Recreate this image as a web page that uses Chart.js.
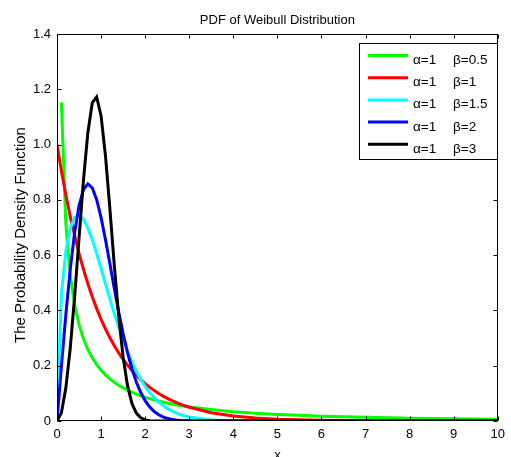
<!DOCTYPE html>
<html>
<head>
<meta charset="utf-8">
<script src="https://cdn.jsdelivr.net/npm/chart.js@4/dist/chart.umd.min.js"></script>
<style>
  html, body { margin: 0; padding: 0; background: #fff; }
  canvas { display: block; }
</style>
</head>
<body>
<canvas id="c" width="511" height="457"></canvas>
<script>
// Sample points along x
const xValues = [0, 0.1, 0.2, 0.3, 0.4, 0.5, 0.6, 0.7, 0.8, 0.9, 1.0, 1.1, 1.2, 1.3, 1.4, 1.5, 1.6, 1.7, 1.8, 1.9,
  2.0, 2.1, 2.2, 2.3, 2.4, 2.5, 2.6, 2.7, 2.8, 2.9, 3.0, 3.5, 4.0, 4.5, 5.0, 5.5, 6.0, 6.5, 7.0, 7.5, 8.0, 8.5, 9.0, 9.5, 10.0];

// Weibull density values, alpha = 1
const pdfBeta05 = [null, 1.1525, 0.7149, 0.5279, 0.4200, 0.3487, 0.2975, 0.2588, 0.2285, 0.2041, 0.1839, 0.1670, 0.1526,
  0.1402, 0.1294, 0.1199, 0.1116, 0.1041, 0.0974, 0.0914, 0.0860, 0.0810, 0.0765, 0.0724, 0.0686, 0.0651, 0.0618, 0.0589,
  0.0561, 0.0535, 0.0511, 0.0412, 0.0338, 0.0283, 0.0239, 0.0204, 0.0176, 0.0153, 0.0134, 0.0118, 0.0104, 0.0093, 0.0083,
  0.0074, 0.0067];
const pdfBeta1 = [1.0000, 0.9048, 0.8187, 0.7408, 0.6703, 0.6065, 0.5488, 0.4966, 0.4493, 0.4066, 0.3679, 0.3329, 0.3012,
  0.2725, 0.2466, 0.2231, 0.2019, 0.1827, 0.1653, 0.1496, 0.1353, 0.1225, 0.1108, 0.1003, 0.0907, 0.0821, 0.0743, 0.0672,
  0.0608, 0.0550, 0.0498, 0.0302, 0.0183, 0.0111, 0.0067, 0.0041, 0.0025, 0.0015, 0.0009, 0.0006, 0.0003, 0.0002, 0.0001,
  0.0001, 0.0000];
const pdfBeta15 = [0, 0.4596, 0.6134, 0.6971, 0.7367, 0.7448, 0.7300, 0.6987, 0.6559, 0.6059, 0.5518, 0.4963, 0.4413,
  0.3886, 0.3387, 0.2926, 0.2507, 0.2132, 0.1799, 0.1507, 0.1254, 0.1037, 0.0852, 0.0696, 0.0565, 0.0455, 0.0365, 0.0292,
  0.0232, 0.0183, 0.0144, 0.0040, 0.0010, 0.0002, 0, 0, 0, 0, 0, 0, 0, 0, 0, 0, 0];
const pdfBeta2 = [0, 0.1980, 0.3843, 0.5483, 0.6817, 0.7788, 0.8372, 0.8577, 0.8437, 0.8008, 0.7358, 0.6561, 0.5686,
  0.4797, 0.3945, 0.3162, 0.2474, 0.1890, 0.1411, 0.1029, 0.0733, 0.0511, 0.0348, 0.0232, 0.0151, 0.0097, 0.0060, 0.0037,
  0.0022, 0.0013, 0.0007, 0, 0, 0, 0, 0, 0, 0, 0, 0, 0, 0, 0, 0, 0];
const pdfBeta3 = [0, 0.0300, 0.1190, 0.2628, 0.4503, 0.6619, 0.8702, 1.0431, 1.1506, 1.1722, 1.1036, 0.9591, 0.7673,
  0.5634, 0.3782, 0.2310, 0.1278, 0.0637, 0.0285, 0.0114, 0.0040, 0.0013, 0.0003, 0, 0, 0, 0, 0, 0, 0,
  0, 0, 0, 0, 0, 0, 0, 0, 0, 0, 0, 0, 0, 0, 0];

const alphaLabels = ['\u03b1=1', '\u03b1=1', '\u03b1=1', '\u03b1=1', '\u03b1=1'];
const betaLabels = ['\u03b2=0.5', '\u03b2=1', '\u03b2=1.5', '\u03b2=2', '\u03b2=3'];
const seriesColors = ['#00ff00', '#ff0000', '#00ffff', '#0000ff', '#000000'];
const seriesValues = [pdfBeta05, pdfBeta1, pdfBeta15, pdfBeta2, pdfBeta3];

const titleText = 'PDF of Weibull Distribution';
const xTitle = 'x';
const yTitle = 'The Probability Density Function';

const FONT = '"Liberation Sans", Arial, Helvetica, sans-serif';

const toPoints = ys => xValues.map((x, i) => ({ x: x, y: ys[i] }));

// Axes box, inward ticks, titles and legend box
const decorations = {
  id: 'decorations',
  afterDatasetsDraw(chart) {
    const { ctx, chartArea: a, scales: { x, y } } = chart;
    ctx.save();
    ctx.strokeStyle = '#000';
    ctx.lineWidth = 1;
    const L = Math.round(a.left) + 0.5, R = Math.round(a.right) - 0.5;
    const T = Math.round(a.top) + 0.5, B = Math.round(a.bottom) - 0.5;
    ctx.strokeRect(L, T, R - L, B - T);
    const tl = 4;
    ctx.beginPath();
    x.ticks.forEach(t => {
      const px = Math.round(x.getPixelForValue(t.value)) + 0.5;
      ctx.moveTo(px, B); ctx.lineTo(px, B - tl);
      ctx.moveTo(px, T); ctx.lineTo(px, T + tl);
    });
    y.ticks.forEach(t => {
      const py = Math.round(y.getPixelForValue(t.value)) + 0.5;
      ctx.moveTo(L, py); ctx.lineTo(L + tl, py);
      ctx.moveTo(R, py); ctx.lineTo(R - tl, py);
    });
    ctx.stroke();

    // title
    ctx.fillStyle = '#000';
    ctx.font = '13px ' + FONT;
    ctx.textAlign = 'center';
    ctx.textBaseline = 'alphabetic';
    ctx.fillText(titleText, (a.left + a.right) / 2, 24);
    // x axis title
    ctx.fillText(xTitle, (a.left + a.right) / 2, 459);
    // y axis title
    ctx.save();
    ctx.translate(25, 235);
    ctx.rotate(-Math.PI / 2);
    ctx.font = '15px ' + FONT;
    ctx.fillText(yTitle, 0, 0);
    ctx.restore();

    // legend
    const bx = 359.5, by = 43.5, bw = 138, bh = 116;
    ctx.fillStyle = '#fff';
    ctx.fillRect(bx, by, bw, bh);
    ctx.strokeStyle = '#000';
    ctx.lineWidth = 1;
    ctx.strokeRect(bx, by, bw, bh);
    ctx.font = '13.5px ' + FONT;
    ctx.textAlign = 'left';
    chart.data.datasets.forEach((ds, i) => {
      const ly = 55.5 + i * 22.2;
      ctx.strokeStyle = ds.borderColor;
      ctx.lineWidth = 3;
      ctx.beginPath();
      ctx.moveTo(368, ly);
      ctx.lineTo(408, ly);
      ctx.stroke();
      ctx.fillStyle = '#000';
      ctx.fillText(alphaLabels[i], 413, ly + 8.5);
      ctx.fillText(betaLabels[i], 453, ly + 8.5);
    });
    ctx.restore();
  }
};

new Chart(document.getElementById('c'), {
  type: 'line',
  data: {
    datasets: seriesValues.map((ys, i) => ({
      label: alphaLabels[i] + ' ' + betaLabels[i],
      data: toPoints(ys),
      borderColor: seriesColors[i],
      backgroundColor: seriesColors[i],
      borderWidth: 3,
      pointRadius: 0,
      fill: false,
      tension: 0,
      spanGaps: false,
      order: seriesValues.length - i
    }))
  },
  options: {
    responsive: false,
    devicePixelRatio: 1,
    animation: false,
    events: [],
    layout: { padding: { left: 0, right: 9, top: 34, bottom: 0 } },
    plugins: {
      legend: { display: false },
      title: { display: false },
      tooltip: { enabled: false }
    },
    scales: {
      x: {
        type: 'linear',
        min: 0, max: 10,
        border: { display: false },
        grid: { display: false, drawTicks: false },
        ticks: { stepSize: 1, color: '#000', padding: 6, font: { family: FONT, size: 13 }, maxRotation: 0 },
        afterFit(scale) { scale.height = 36; }
      },
      y: {
        type: 'linear',
        min: 0, max: 1.4,
        border: { display: false },
        grid: { display: false, drawTicks: false },
        ticks: { stepSize: 0.2, color: '#000', padding: 6, font: { family: FONT, size: 13 } },
        afterFit(scale) { scale.width = 57; }
      }
    }
  },
  plugins: [decorations]
});
</script>
</body>
</html>
